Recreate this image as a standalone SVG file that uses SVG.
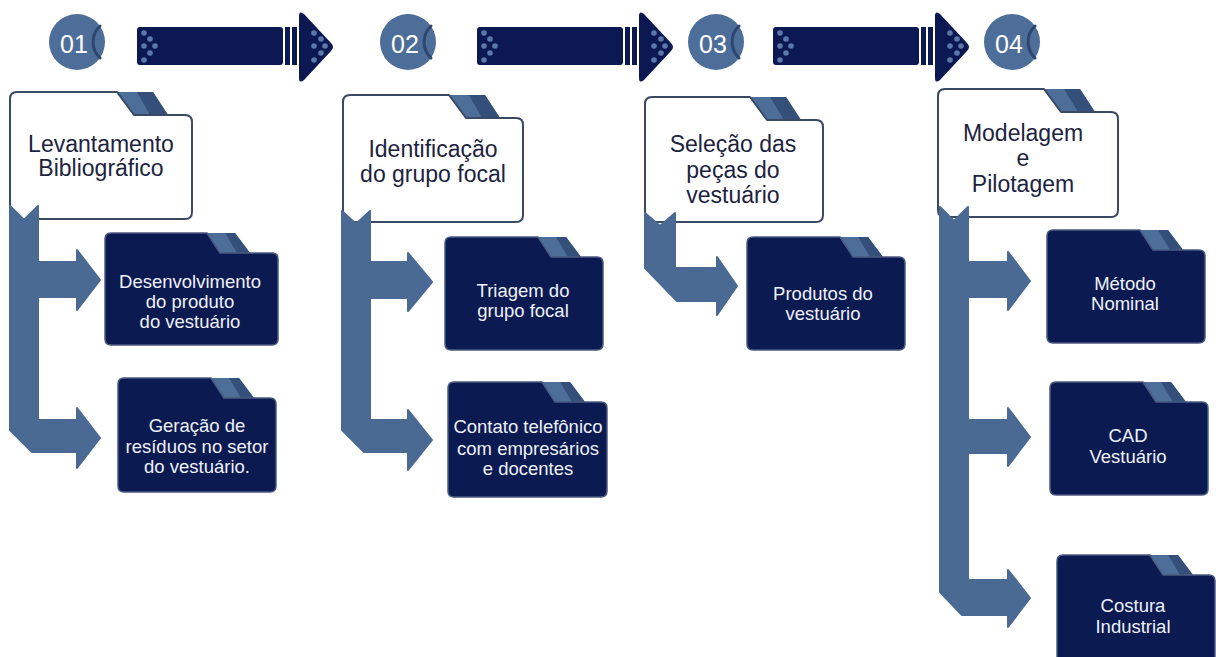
<svg xmlns="http://www.w3.org/2000/svg" xmlns:xlink="http://www.w3.org/1999/xlink" width="1216" height="657" viewBox="0 0 1216 657">
<style>
.bg{fill:#ffffff}
.circ{fill:#4e6e9a}
.cres{fill:none;stroke:#2c4670;stroke-width:3;stroke-linecap:round}
.num{font-family:"Liberation Sans",Arial,sans-serif;font-size:25px;fill:#ffffff;text-anchor:middle}
.wf{fill:#ffffff;stroke:#3a4a64;stroke-width:2;stroke-linejoin:round}
.df{fill:#0c1a52;stroke:#4a5a80;stroke-width:1.5;stroke-linejoin:round}
.tabL{fill:#4e6e9a}
.tabD{fill:#34507a}
.title{font-family:"Liberation Sans",Arial,sans-serif;font-size:23px;fill:#1c2340;text-anchor:middle}
.sub{font-family:"Liberation Sans",Arial,sans-serif;font-size:18.5px;fill:#eef1f8;text-anchor:middle}
.conn{fill:#4a6a94;stroke:#4a6a94;stroke-width:2;stroke-linejoin:round}
.big{fill:#0c1852}
.dot{fill:#5b78a8}
</style>
<defs>
<g id="bigArrow">
<rect class="big" x="0" y="27" width="146" height="38" rx="3"/>
<rect class="big" x="148" y="27" width="5" height="38"/>
<rect class="big" x="155" y="27" width="5" height="38"/>
<path class="big" d="M162,16 Q162,10 167,14 L194,43 Q198,47 194,51 L167,80 Q162,84 162,78 Z"/>
<circle class="dot" cx="7" cy="33" r="2.8"/><circle class="dot" cx="13" cy="39" r="2.8"/><circle class="dot" cx="7" cy="46" r="2.8"/><circle class="dot" cx="18" cy="46" r="2.8"/><circle class="dot" cx="13" cy="53" r="2.8"/><circle class="dot" cx="7" cy="60" r="2.8"/>
<circle class="dot" cx="177" cy="33" r="2.8"/><circle class="dot" cx="184" cy="39" r="2.8"/><circle class="dot" cx="177" cy="46" r="2.8"/><circle class="dot" cx="188" cy="46" r="2.8"/><circle class="dot" cx="184" cy="53" r="2.8"/><circle class="dot" cx="177" cy="60" r="2.8"/>
</g>
</defs>
<rect class="bg" x="0" y="0" width="1216" height="657"/>

<g id="step01">
<circle class="circ" cx="77" cy="42" r="28"/>
<path class="cres" d="M100,26 A22,22 0 0 0 100,58"/>
<text class="num" x="74" y="53">01</text>
</g>
<g id="step02">
<circle class="circ" cx="408" cy="42" r="28"/>
<path class="cres" d="M431,26 A22,22 0 0 0 431,58"/>
<text class="num" x="405" y="53">02</text>
</g>
<g id="step03">
<circle class="circ" cx="716" cy="42" r="28"/>
<path class="cres" d="M739,26 A22,22 0 0 0 739,58"/>
<text class="num" x="713" y="53">03</text>
</g>
<g id="step04">
<circle class="circ" cx="1012" cy="42" r="28"/>
<path class="cres" d="M1035,26 A22,22 0 0 0 1035,58"/>
<text class="num" x="1009" y="53">04</text>
</g>

<g id="levantamento">
<polygon class="tabL" points="117,92 153,92 168,115 134,115"/>
<polygon class="tabD" points="137,92 153,92 168,115 150,115"/>
<path class="wf" d="M17,92 L117,92 L134,115 L185,115 Q192,115 192,122 L192,212 Q192,219 185,219 L17,219 Q10,219 10,212 L10,99 Q10,92 17,92 Z"/>
<text class="title" x="101" y="152">Levantamento</text>
<text class="title" x="101" y="176">Bibliográfico</text>
</g>
<g id="identificacao">
<polygon class="tabL" points="449,95 485,95 500,118 466,118"/>
<polygon class="tabD" points="469,95 485,95 500,118 482,118"/>
<path class="wf" d="M350,95 L449,95 L466,118 L516,118 Q523,118 523,125 L523,215 Q523,222 516,222 L350,222 Q343,222 343,215 L343,102 Q343,95 350,95 Z"/>
<text class="title" x="433" y="157">Identificação</text>
<text class="title" x="433" y="182">do grupo focal</text>
</g>
<g id="selecao">
<polygon class="tabL" points="750,97 786,97 801,120 767,120"/>
<polygon class="tabD" points="770,97 786,97 801,120 784,120"/>
<path class="wf" d="M652,97 L750,97 L767,120 L816,120 Q823,120 823,127 L823,215 Q823,222 816,222 L652,222 Q645,222 645,215 L645,104 Q645,97 652,97 Z"/>
<text class="title" x="733" y="152">Seleção das</text>
<text class="title" x="733" y="178">peças do</text>
<text class="title" x="733" y="203">vestuário</text>
</g>
<g id="modelagem">
<polygon class="tabL" points="1044,89 1080,89 1095,112 1061,112"/>
<polygon class="tabD" points="1064,89 1080,89 1095,112 1078,112"/>
<path class="wf" d="M945,89 L1044,89 L1061,112 L1111,112 Q1118,112 1118,119 L1118,210 Q1118,217 1111,217 L945,217 Q938,217 938,210 L938,96 Q938,89 945,89 Z"/>
<text class="title" x="1023" y="141">Modelagem</text>
<text class="title" x="1023" y="166">e</text>
<text class="title" x="1023" y="192">Pilotagem</text>
</g>

<g id="desenvolvimento">
<polygon class="tabL" points="207,233 235,233 250,253 220,253"/>
<polygon class="tabD" points="225,233 235,233 250,253 237,253"/>
<path class="df" d="M111,233 L207,233 L220,253 L272,253 Q278,253 278,259 L278,339 Q278,345 272,345 L111,345 Q105,345 105,339 L105,239 Q105,233 111,233 Z"/>
<text class="sub" x="190" y="288">Desenvolvimento</text>
<text class="sub" x="190" y="308">do produto</text>
<text class="sub" x="190" y="328">do vestuário</text>
</g>
<g id="geracao">
<polygon class="tabL" points="211,378 239,378 254,398 224,398"/>
<polygon class="tabD" points="229,378 239,378 254,398 241,398"/>
<path class="df" d="M124,378 L211,378 L224,398 L270,398 Q276,398 276,404 L276,486 Q276,492 270,492 L124,492 Q118,492 118,486 L118,384 Q118,378 124,378 Z"/>
<text class="sub" x="197" y="432">Geração de</text>
<text class="sub" x="197" y="453">resíduos no setor</text>
<text class="sub" x="197" y="473">do vestuário.</text>
</g>
<g id="triagem">
<polygon class="tabL" points="538,237 566,237 581,257 551,257"/>
<polygon class="tabD" points="556,237 566,237 581,257 568,257"/>
<path class="df" d="M451,237 L538,237 L551,257 L597,257 Q603,257 603,263 L603,344 Q603,350 597,350 L451,350 Q445,350 445,344 L445,243 Q445,237 451,237 Z"/>
<text class="sub" x="523" y="297">Triagem do</text>
<text class="sub" x="523" y="317">grupo focal</text>
</g>
<g id="contato">
<polygon class="tabL" points="542,382 570,382 585,402 555,402"/>
<polygon class="tabD" points="560,382 570,382 585,402 572,402"/>
<path class="df" d="M454,382 L542,382 L555,402 L601,402 Q607,402 607,408 L607,491 Q607,497 601,497 L454,497 Q448,497 448,491 L448,388 Q448,382 454,382 Z"/>
<text class="sub" x="528" y="433">Contato telefônico</text>
<text class="sub" x="528" y="455">com empresários</text>
<text class="sub" x="528" y="475">e docentes</text>
</g>
<g id="produtos">
<polygon class="tabL" points="840,237 868,237 883,257 853,257"/>
<polygon class="tabD" points="858,237 868,237 883,257 870,257"/>
<path class="df" d="M753,237 L840,237 L853,257 L899,257 Q905,257 905,263 L905,344 Q905,350 899,350 L753,350 Q747,350 747,344 L747,243 Q747,237 753,237 Z"/>
<text class="sub" x="823" y="300">Produtos do</text>
<text class="sub" x="823" y="320">vestuário</text>
</g>
<g id="metodo">
<polygon class="tabL" points="1140,230 1168,230 1183,250 1153,250"/>
<polygon class="tabD" points="1158,230 1168,230 1183,250 1170,250"/>
<path class="df" d="M1053,230 L1140,230 L1153,250 L1199,250 Q1205,250 1205,256 L1205,337 Q1205,343 1199,343 L1053,343 Q1047,343 1047,337 L1047,236 Q1047,230 1053,230 Z"/>
<text class="sub" x="1125" y="290">Método</text>
<text class="sub" x="1125" y="310">Nominal</text>
</g>
<g id="cad">
<polygon class="tabL" points="1143,382 1171,382 1186,402 1156,402"/>
<polygon class="tabD" points="1161,382 1171,382 1186,402 1173,402"/>
<path class="df" d="M1056,382 L1143,382 L1156,402 L1202,402 Q1208,402 1208,408 L1208,489 Q1208,495 1202,495 L1056,495 Q1050,495 1050,489 L1050,388 Q1050,382 1056,382 Z"/>
<text class="sub" x="1128" y="442">CAD</text>
<text class="sub" x="1128" y="463">Vestuário</text>
</g>
<g id="costura">
<polygon class="tabL" points="1150,555 1178,555 1193,575 1163,575"/>
<polygon class="tabD" points="1168,555 1178,555 1193,575 1180,575"/>
<path class="df" d="M1063,555 L1150,555 L1163,575 L1209,575 Q1215,575 1215,581 L1215,664 Q1215,670 1209,670 L1063,670 Q1057,670 1057,664 L1057,561 Q1057,555 1063,555 Z"/>
<text class="sub" x="1133" y="612">Costura</text>
<text class="sub" x="1133" y="633">Industrial</text>
</g>

<g id="connectors">
<use xlink:href="#bigArrow" href="#bigArrow" x="137" y="0"/>
<use xlink:href="#bigArrow" href="#bigArrow" x="477" y="0"/>
<use xlink:href="#bigArrow" href="#bigArrow" x="773" y="0"/>
<polygon class="conn" points="10,206 24,220 38,206 38,262 77,262 77,250 100,280 77,310 77,297 38,297 38,420 77,420 77,408 100,438 77,468 77,452 32,452 10,430"/>
<polygon class="conn" points="342,211 356,224 370,211 370,262 408,262 408,253 432,282 408,311 408,298 370,298 370,420 408,420 408,410 432,440 408,470 408,452 364,452 342,430"/>
<polygon class="conn" points="645,213 660,226 675,213 675,268 717,268 717,257 737,286 717,315 717,301 677,301 645,268"/>
<polygon class="conn" points="940,207 954,221 968,207 968,262 1008,262 1008,252 1030,281 1008,310 1008,297 968,297 968,420 1008,420 1008,408 1030,437 1008,466 1008,453 968,453 968,580 1008,580 1008,570 1030,598 1008,627 1008,615 962,615 940,592"/>
</g>
</svg>
